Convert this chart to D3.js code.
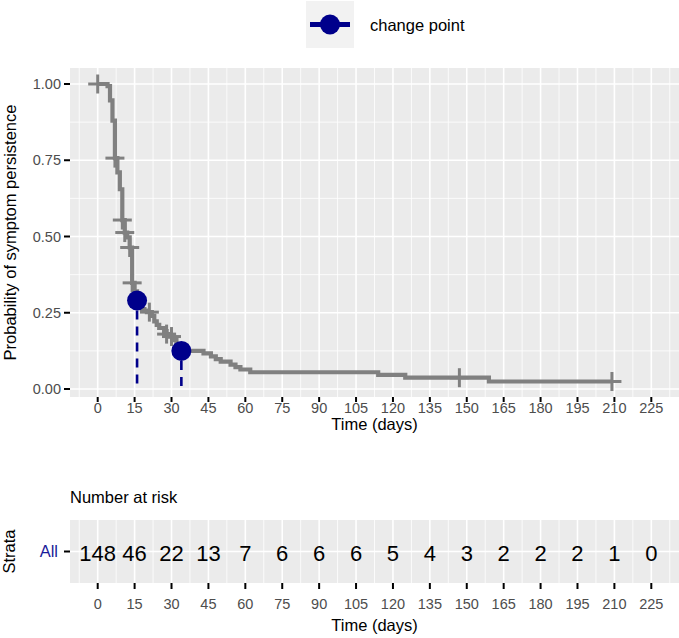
<!DOCTYPE html>
<html><head><meta charset="utf-8">
<script src="https://cdn.jsdelivr.net/npm/d3@7/dist/d3.min.js"></script>
<style>
body{margin:0;background:#fff}
svg{display:block;font-family:"Liberation Sans",Arial,sans-serif}
</style>
</head><body>
<svg id="chart" width="679" height="638"></svg>
<script>
// ---- data ----
const stepTimes = [0,4,5,6,7,8,9,10,11,12,13,14,15,16,17,18,19,20,22,23,24,25,27,28,29,31,32,33,34,43,46,48,50,54,56,58,62,114,125,159,209];
const stepSurv  = [1.00,0.993,0.946,0.88,0.757,0.71,0.655,0.554,0.513,0.497,0.464,0.348,0.32,0.29,0.275,0.262,0.257,0.252,0.24,0.222,0.21,0.2,0.19,0.18,0.172,0.16,0.147,0.136,0.125,0.117,0.107,0.098,0.09,0.08,0.072,0.064,0.055,0.046,0.037,0.0246,0.0246];
const censorTimes = [0,7,10,11,13,14,21,28,30,147,209];
const censorSurv  = [1.00,0.757,0.554,0.513,0.464,0.348,0.252,0.18,0.172,0.037,0.0246];
const changeTimes = [16,34];
const changeSurv  = [0.29,0.125];
const riskTimes  = [0,15,30,45,60,75,90,105,120,135,150,165,180,195,210,225];
const riskCounts = [148,46,22,13,7,6,6,6,5,4,3,2,2,2,1,0];
const yTicks = [0,0.25,0.5,0.75,1];
const yTickLabels = ["0.00","0.25","0.50","0.75","1.00"];
const strata = ["All"];
const legendLabel = "change point";

// ---- layout ----
const svg = d3.select("#chart");
const panelL = 70, panelR = 679;
const mainTop = 68, mainBot = 397;
const tabTop = 520, tabBot = 583;
const grey = "#808080", navy = "#00008B", bg = "#EBEBEB", tickCol = "#4D4D4D";

const x = d3.scaleLinear().domain([0,225]).range([97.7, 651.3]);
const y = d3.scaleLinear().domain([0,1]).range([389, 84]);
const xMinor = d3.range(-7.5, 240, 15).filter(v => x(v) > panelL && x(v) < panelR);
const yMinor = [0.125,0.375,0.625,0.875];

// ---- main panel ----
const g = svg.append("g");
g.append("rect").attr("x",panelL).attr("y",mainTop).attr("width",panelR-panelL).attr("height",mainBot-mainTop).attr("fill",bg);
g.selectAll(".vminor").data(xMinor).join("line")
  .attr("x1",d=>x(d)).attr("x2",d=>x(d)).attr("y1",mainTop).attr("y2",mainBot)
  .attr("stroke","#fff").attr("stroke-width",0.8);
g.selectAll(".hminor").data(yMinor).join("line")
  .attr("x1",panelL).attr("x2",panelR).attr("y1",d=>y(d)).attr("y2",d=>y(d))
  .attr("stroke","#fff").attr("stroke-width",0.8);
g.selectAll(".vmajor").data(riskTimes).join("line")
  .attr("x1",d=>x(d)).attr("x2",d=>x(d)).attr("y1",mainTop).attr("y2",mainBot)
  .attr("stroke","#fff").attr("stroke-width",1.6);
g.selectAll(".hmajor").data(yTicks).join("line")
  .attr("x1",panelL).attr("x2",panelR).attr("y1",d=>y(d)).attr("y2",d=>y(d))
  .attr("stroke","#fff").attr("stroke-width",1.6);

// survival step curve
const steps = stepTimes.map((t,i)=>({t, s:stepSurv[i]}));
const line = d3.line().x(d=>x(d.t)).y(d=>y(d.s)).curve(d3.curveStepAfter);
g.append("path").datum(steps).attr("d",line).attr("fill","none")
  .attr("stroke",grey).attr("stroke-width",4.2);

// censor marks
const cens = censorTimes.map((t,i)=>({t, s:censorSurv[i]}));
const plusHalf = 9.5;
const cg = g.append("g").attr("stroke",grey).attr("stroke-width",3);
cg.selectAll(".ch").data(cens).join("line")
  .attr("x1",d=>x(d.t)-plusHalf).attr("x2",d=>x(d.t)+plusHalf).attr("y1",d=>y(d.s)).attr("y2",d=>y(d.s));
cg.selectAll(".cv").data(cens).join("line")
  .attr("x1",d=>x(d.t)).attr("x2",d=>x(d.t)).attr("y1",d=>y(d.s)-plusHalf).attr("y2",d=>y(d.s)+plusHalf);

// change points
const cps = changeTimes.map((t,i)=>({t, s:changeSurv[i]}));
g.selectAll(".dash").data(cps).join("line")
  .attr("x1",d=>x(d.t)).attr("x2",d=>x(d.t)).attr("y1",d=>y(d.s)+10).attr("y2",y(0))
  .attr("stroke",navy).attr("stroke-width",2.6).attr("stroke-dasharray","9,7");
g.selectAll(".cp").data(cps).join("circle")
  .attr("cx",d=>x(d.t)).attr("cy",d=>y(d.s)).attr("r",10).attr("fill",navy);

// y axis
const ya = svg.append("g");
ya.selectAll("line").data(yTicks).join("line")
  .attr("x1",panelL-6).attr("x2",panelL).attr("y1",d=>y(d)).attr("y2",d=>y(d))
  .attr("stroke","#000").attr("stroke-width",2);
ya.selectAll("text").data(yTicks).join("text")
  .attr("x",panelL-9).attr("y",d=>y(d)).attr("dy","0.36em").attr("text-anchor","end")
  .attr("font-size",14.5).attr("fill",tickCol).text((d,i)=>yTickLabels[i]);
svg.append("text").attr("transform",`translate(16,${(mainTop+mainBot)/2}) rotate(-90)`)
  .attr("text-anchor","middle").attr("font-size",16.5).attr("fill","#000")
  .text("Probability of symptom persistence");

// x axis main
const xa = svg.append("g");
xa.selectAll("line").data(riskTimes).join("line")
  .attr("x1",d=>x(d)).attr("x2",d=>x(d)).attr("y1",mainBot).attr("y2",mainBot+5)
  .attr("stroke","#000").attr("stroke-width",2);
xa.selectAll("text").data(riskTimes).join("text")
  .attr("x",d=>x(d)).attr("y",mainBot+16).attr("text-anchor","middle")
  .attr("font-size",14.5).attr("fill",tickCol).text(d=>d);
svg.append("text").attr("x",(panelL+panelR)/2).attr("y",mainBot+33).attr("text-anchor","middle")
  .attr("font-size",16.5).attr("fill","#000").text("Time (days)");

// legend
const lg = svg.append("g");
lg.append("rect").attr("x",306).attr("y",1).attr("width",48).attr("height",47).attr("fill","#F2F2F2");
lg.append("line").attr("x1",310).attr("x2",350).attr("y1",24.5).attr("y2",24.5).attr("stroke",navy).attr("stroke-width",5);
lg.append("circle").attr("cx",330).attr("cy",24.5).attr("r",10).attr("fill",navy);
lg.append("text").attr("x",370).attr("y",30.5).attr("font-size",16.5).attr("fill","#000").text(legendLabel);

// ---- risk table ----
const yt = d3.scaleBand().domain(strata).range([tabBot, tabTop]);
const tg = svg.append("g");
tg.append("rect").attr("x",panelL).attr("y",tabTop).attr("width",panelR-panelL).attr("height",tabBot-tabTop).attr("fill",bg);
tg.selectAll(".vminor").data(xMinor).join("line")
  .attr("x1",d=>x(d)).attr("x2",d=>x(d)).attr("y1",tabTop).attr("y2",tabBot)
  .attr("stroke","#fff").attr("stroke-width",0.8);
tg.selectAll(".vmajor").data(riskTimes).join("line")
  .attr("x1",d=>x(d)).attr("x2",d=>x(d)).attr("y1",tabTop).attr("y2",tabBot)
  .attr("stroke","#fff").attr("stroke-width",1.6);
const rowY = d => yt(d) + yt.bandwidth()/2;
tg.selectAll(".hmajor").data(strata).join("line")
  .attr("x1",panelL).attr("x2",panelR).attr("y1",rowY).attr("y2",rowY)
  .attr("stroke","#fff").attr("stroke-width",1.6);
tg.selectAll(".num").data(riskTimes).join("text")
  .attr("x",d=>x(d)).attr("y",rowY("All")+1.5).attr("dy","0.36em").attr("text-anchor","middle")
  .attr("font-size",22).attr("fill","#000").text((d,i)=>riskCounts[i]);
// table y axis
tg.append("line").attr("x1",panelL-6).attr("x2",panelL).attr("y1",rowY("All")).attr("y2",rowY("All"))
  .attr("stroke","#000").attr("stroke-width",2);
tg.append("text").attr("x",panelL-12).attr("y",rowY("All")).attr("dy","0.36em").attr("text-anchor","end")
  .attr("font-size",16.5).attr("fill","#1a1a9a").text(strata[0]);
svg.append("text").attr("transform",`translate(15,${rowY("All")}) rotate(-90)`)
  .attr("text-anchor","middle").attr("font-size",16.5).attr("fill","#000").text("Strata");
svg.append("text").attr("x",panelL).attr("y",503).attr("font-size",16.5).attr("fill","#000").text("Number at risk");
// table x axis
tg.selectAll(".tt").data(riskTimes).join("line")
  .attr("x1",d=>x(d)).attr("x2",d=>x(d)).attr("y1",tabBot).attr("y2",tabBot+6)
  .attr("stroke","#000").attr("stroke-width",2);
tg.selectAll(".tl").data(riskTimes).join("text")
  .attr("x",d=>x(d)).attr("y",tabBot+26).attr("text-anchor","middle")
  .attr("font-size",14.5).attr("fill",tickCol).text(d=>d);
svg.append("text").attr("x",(panelL+panelR)/2).attr("y",631).attr("text-anchor","middle")
  .attr("font-size",16.5).attr("fill","#000").text("Time (days)");
</script>
</body></html>
